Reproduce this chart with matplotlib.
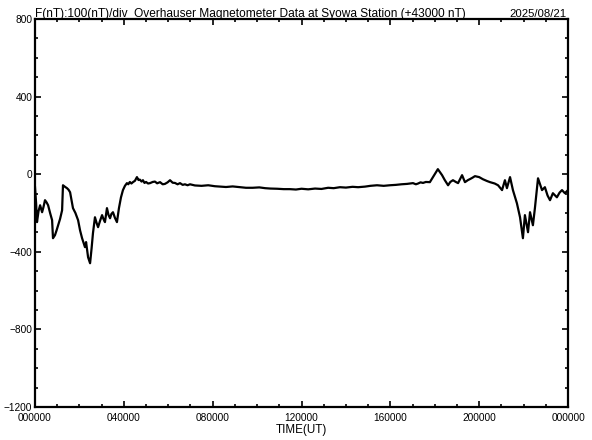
import matplotlib
matplotlib.use("Agg")
import matplotlib.pyplot as plt
from matplotlib.ticker import MultipleLocator, FixedLocator

plt.rcParams['font.family'] = ['Liberation Sans', 'DejaVu Sans']

# Time of day (hours, UT) and F deviation from 43000 nT
hours = [0.00, 0.05, 0.09, 0.16, 0.23, 0.32, 0.38, 0.45, 0.52, 0.59, 0.68, 0.77, 0.81,
         0.90, 0.97, 1.04, 1.13, 1.22, 1.26, 1.35, 1.44, 1.51, 1.58, 1.71, 1.82, 1.94,
         2.03, 2.12, 2.25, 2.30, 2.39, 2.48, 2.55, 2.61, 2.70, 2.77, 2.84, 2.93, 3.02,
         3.08, 3.15, 3.24, 3.31, 3.38, 3.44, 3.51, 3.60, 3.69, 3.78, 3.87, 3.96, 4.05,
         4.14, 4.20, 4.27, 4.34, 4.41, 4.50, 4.59, 4.66, 4.72, 4.80, 4.86, 4.93, 5.00,
         5.09, 5.18, 5.30, 5.40, 5.50, 5.63, 5.75, 5.85, 5.97, 6.08, 6.20, 6.30, 6.42,
         6.53, 6.65, 6.75, 6.87, 6.98, 7.20, 7.50, 7.80, 8.10, 8.35, 8.60, 8.90, 9.23,
         9.50, 9.80, 10.10, 10.36, 10.60, 10.90, 11.20, 11.48, 11.75, 12.00, 12.30,
         12.61, 12.90, 13.20, 13.45, 13.73, 14.00, 14.30, 14.55, 14.86, 15.10, 15.40,
         15.70, 15.98, 16.25, 16.50, 16.75, 17.02, 17.15, 17.25, 17.36, 17.47, 17.60,
         17.78, 17.92, 18.05, 18.14, 18.33, 18.45, 18.60, 18.70, 18.82, 18.95, 19.05,
         19.23, 19.36, 19.50, 19.59, 19.70, 19.81, 20.00, 20.17, 20.35, 20.49, 20.70,
         20.85, 21.03, 21.16, 21.25, 21.39, 21.52, 21.70, 21.84, 21.97, 22.06, 22.20,
         22.29, 22.42, 22.51, 22.65, 22.83, 22.96, 23.08, 23.19, 23.32, 23.50, 23.62,
         23.73, 23.86, 24.00]
f_dev = [-67, -150, -247, -190, -160, -196, -170, -134, -145, -160, -200, -237, -330,
         -314, -290, -263, -230, -186, -57, -65, -72, -80, -93, -175, -200, -237,
         -290, -330, -376, -350, -428, -459, -380, -304, -222, -250, -273, -240, -211,
         -230, -247, -175, -210, -227, -205, -196, -225, -247, -175, -120, -82, -60,
         -46, -52, -40, -48, -41, -34, -15, -30, -28, -38, -31, -45, -40,
         -48, -46, -40, -38, -47, -41, -52, -50, -42, -31, -44, -45, -52,
         -46, -55, -52, -57, -52, -58, -60, -57, -62, -64, -66, -63, -67,
         -70, -70, -68, -72, -74, -75, -77, -77, -79, -75, -78,
         -74, -76, -70, -72, -67, -69, -65, -67, -64, -60, -57,
         -60, -57, -55, -52, -50, -46, -52, -48, -42, -45, -40,
         -41, -15, 10, 26, -5, -30, -57, -40, -31,
         -40, -46, -5, -41, -30, -25, -18, -10, -15, -26, -35, -41,
         -48, -57, -82, -31, -72, -15, -82, -150, -222, -330, -211,
         -299, -196, -263, -175, -21, -82, -67, -110, -134, -98, -119,
         -95, -82, -98, -82]

x_major = [0, 4, 8, 12, 16, 20, 24]
x_labels = ["000000", "040000", "080000", "120000", "160000", "200000", "000000"]
y_major = [-1200, -800, -400, 0, 400, 800]

fig = plt.figure(figsize=(5.92, 4.40), dpi=100)
ax = fig.add_axes([35 / 592, 1 - 407 / 440, 533 / 592, 388 / 440])

ax.plot(hours, f_dev, color="black", lw=1.6)

ax.set_xlim(0, 24)
ax.set_ylim(-1200, 800)
ax.xaxis.set_major_locator(FixedLocator(x_major))
ax.set_xticklabels(x_labels)
ax.xaxis.set_minor_locator(MultipleLocator(1))
ax.yaxis.set_major_locator(FixedLocator(y_major))
ax.yaxis.set_minor_locator(MultipleLocator(100))

for s in ax.spines.values():
    s.set_linewidth(1.6)

ax.tick_params(which="both", direction="in", top=True, right=True, width=1.2,
               labelsize=7.3, colors="black")
ax.tick_params(axis="x", pad=4)
ax.tick_params(axis="y", pad=2)
ax.tick_params(which="major", length=4)
ax.tick_params(which="minor", length=2.5)

ax.set_xlabel("TIME(UT)", fontsize=8.4, labelpad=1)

fig.text(35 / 592, 1 - 17 / 440,
         "F(nT):100(nT)/div  Overhauser Magnetometer Data at Syowa Station (+43000 nT)",
         fontsize=8.6, ha="left", va="baseline")
fig.text(567 / 592, 1 - 17 / 440, "2025/08/21", fontsize=8.2, ha="right", va="baseline")

fig.savefig("out.png", dpi=100)
